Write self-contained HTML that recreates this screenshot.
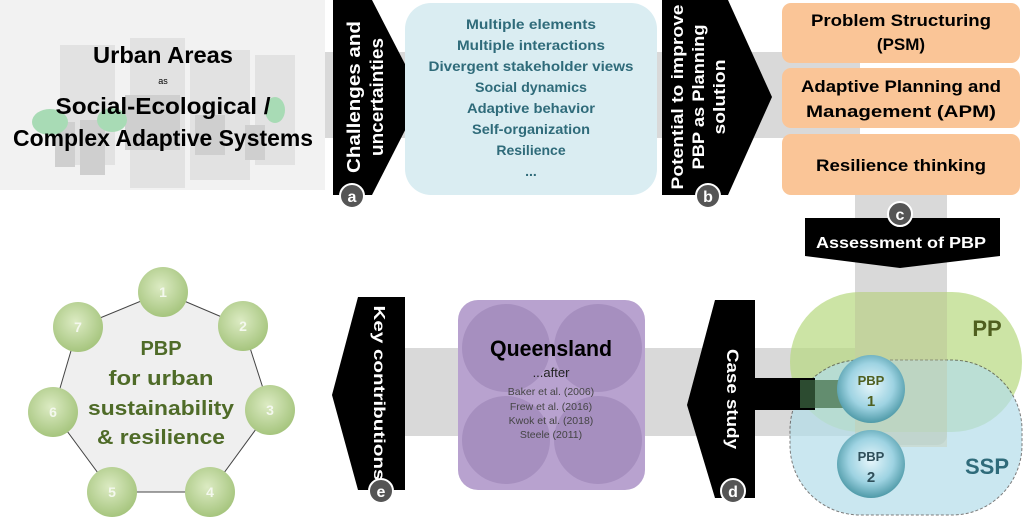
<!DOCTYPE html>
<html><head><meta charset="utf-8"><style>
html,body{margin:0;padding:0;background:#fff;width:1024px;height:523px;overflow:hidden}
svg{display:block;font-family:"Liberation Sans",sans-serif;font-weight:bold}
</style></head><body>
<svg width="1024" height="523" viewBox="0 0 1024 523" xmlns="http://www.w3.org/2000/svg">
<defs>
<radialGradient id="gc" cx="45%" cy="40%" r="60%"><stop offset="0" stop-color="#dcebc3"/><stop offset="1" stop-color="#a6c57e"/></radialGradient>
<radialGradient id="bc" cx="50%" cy="45%" r="55%"><stop offset="0" stop-color="#e6f6fb"/><stop offset="0.6" stop-color="#9ed3e2"/><stop offset="1" stop-color="#4f9aa8"/></radialGradient>
</defs>
<rect x="300" y="52" width="560" height="86" fill="#d9d9d9"/>
<rect x="855" y="140" width="92" height="305" rx="10" fill="#d9d9d9"/>
<rect x="395" y="348" width="530" height="88" fill="#d9d9d9"/>
<rect x="0" y="0" width="325" height="190" fill="#f2f2f2"/>
<g fill="#e2e2e2">
<rect x="60" y="45" width="55" height="120"/><rect x="130" y="38" width="55" height="150"/><rect x="190" y="50" width="60" height="130"/><rect x="255" y="55" width="40" height="110"/>
</g>
<g fill="#cfcfcf"><rect x="125" y="95" width="55" height="55"/><rect x="55" y="122" width="20" height="45"/><rect x="80" y="120" width="25" height="55"/><rect x="195" y="115" width="30" height="40"/><rect x="245" y="125" width="20" height="35"/></g>
<g fill="#a8dbb5"><ellipse cx="50" cy="122" rx="18" ry="13"/><ellipse cx="112" cy="120" rx="15" ry="12"/><ellipse cx="275" cy="110" rx="10" ry="13"/></g>
<g text-anchor="middle" fill="#000">
<text x="163" y="63" font-size="23" textLength="140" lengthAdjust="spacingAndGlyphs">Urban Areas</text>
<text x="163" y="84" font-size="9" font-weight="normal">as</text>
<text x="163" y="114" font-size="23" textLength="215" lengthAdjust="spacingAndGlyphs">Social-Ecological /</text>
<text x="163" y="146" font-size="23" textLength="300" lengthAdjust="spacingAndGlyphs">Complex Adaptive Systems</text>
</g>
<polygon points="333,0 372,0 422,97 372,195 333,195" fill="#000"/>
<g fill="#fff" font-size="18" text-anchor="middle">
<text transform="translate(360,97) rotate(-90)" textLength="152" lengthAdjust="spacingAndGlyphs">Challenges and</text>
<text transform="translate(383,97) rotate(-90)" textLength="118" lengthAdjust="spacingAndGlyphs">uncertainties</text>
</g>
<circle cx="352" cy="196" r="12" fill="#555" stroke="#fff" stroke-width="2"/>
<text x="352" y="202" fill="#fff" font-size="16" text-anchor="middle">a</text>
<rect x="405" y="3" width="252" height="192" rx="26" fill="#daedf2"/>
<g fill="#2f6b7a" font-size="14" text-anchor="middle">
<text x="531" y="29" textLength="130" lengthAdjust="spacingAndGlyphs">Multiple elements</text>
<text x="531" y="50" textLength="148" lengthAdjust="spacingAndGlyphs">Multiple interactions</text>
<text x="531" y="71" textLength="205" lengthAdjust="spacingAndGlyphs">Divergent stakeholder views</text>
<text x="531" y="92" textLength="112" lengthAdjust="spacingAndGlyphs">Social dynamics</text>
<text x="531" y="113" textLength="128" lengthAdjust="spacingAndGlyphs">Adaptive behavior</text>
<text x="531" y="134" textLength="118" lengthAdjust="spacingAndGlyphs">Self-organization</text>
<text x="531" y="155">Resilience</text>
<text x="531" y="176">...</text>
</g>
<polygon points="662,0 728,0 772,97 728,195 662,195" fill="#000"/>
<g fill="#fff" font-size="17" text-anchor="middle">
<text transform="translate(683,97) rotate(-90)" textLength="185" lengthAdjust="spacingAndGlyphs">Potential to improve</text>
<text transform="translate(704,97) rotate(-90)" textLength="145" lengthAdjust="spacingAndGlyphs">PBP as Planning</text>
<text transform="translate(725,97) rotate(-90)" textLength="75" lengthAdjust="spacingAndGlyphs">solution</text>
</g>
<circle cx="708" cy="196" r="12" fill="#555" stroke="#fff" stroke-width="2"/>
<text x="708" y="202" fill="#fff" font-size="16" text-anchor="middle">b</text>
<g fill="#fac597">
<rect x="782" y="3" width="238" height="60" rx="9"/>
<rect x="782" y="68" width="238" height="60" rx="9"/>
<rect x="782" y="134" width="238" height="61" rx="9"/>
</g>
<g fill="#000" font-size="17" text-anchor="middle">
<text x="901" y="26" textLength="180" lengthAdjust="spacingAndGlyphs">Problem Structuring</text>
<text x="901" y="50">(PSM)</text>
<text x="901" y="92" textLength="200" lengthAdjust="spacingAndGlyphs">Adaptive Planning and</text>
<text x="901" y="117" textLength="190" lengthAdjust="spacingAndGlyphs">Management (APM)</text>
<text x="901" y="171" textLength="170" lengthAdjust="spacingAndGlyphs">Resilience thinking</text>
</g>
<polygon points="805,218 1000,218 1000,256 900,268 805,256" fill="#000"/>
<text x="901" y="248" fill="#fff" font-size="16" text-anchor="middle" textLength="170" lengthAdjust="spacingAndGlyphs">Assessment of PBP</text>
<circle cx="900" cy="214" r="12" fill="#555" stroke="#fff" stroke-width="2"/>
<text x="900" y="220" fill="#fff" font-size="16" text-anchor="middle">c</text>
<rect x="790" y="292" width="232" height="140" rx="70" fill="#b6d97f" opacity="0.7"/>
<rect x="790" y="360" width="232" height="155" rx="70" fill="#b4deea" opacity="0.7" stroke="#444" stroke-dasharray="3,2"/>
<rect x="855" y="292" width="92" height="155" fill="#c9c9a6" opacity="0.35"/>
<text x="987" y="336" fill="#4f5f1f" font-size="22" text-anchor="middle">PP</text>
<text x="987" y="474" fill="#2f6b7a" font-size="22" text-anchor="middle">SSP</text>
<rect x="745" y="378" width="70" height="32" fill="#000"/>
<rect x="800" y="380" width="50" height="28" fill="#3f6b45" opacity="0.7"/>
<circle cx="871" cy="389" r="34" fill="url(#bc)"/>
<circle cx="871" cy="464" r="34" fill="url(#bc)"/>
<g fill="#4f5f1f" font-size="13" text-anchor="middle"><text x="871" y="385">PBP</text><text x="871" y="406" font-size="15">1</text></g>
<g fill="#2f4f5a" font-size="13" text-anchor="middle"><text x="871" y="461">PBP</text><text x="871" y="482" font-size="15">2</text></g>
<polygon points="715,300 755,300 755,498 715,498 687,405" fill="#000"/>
<text transform="translate(727,399) rotate(90)" fill="#fff" font-size="17" text-anchor="middle" textLength="100" lengthAdjust="spacingAndGlyphs">Case study</text>
<circle cx="733" cy="491" r="12" fill="#555" stroke="#fff" stroke-width="2"/>
<text x="733" y="497" fill="#fff" font-size="16" text-anchor="middle">d</text>
<rect x="458" y="300" width="187" height="190" rx="20" fill="#b8a2cf"/>
<g fill="#a68fbf"><circle cx="506" cy="348" r="44"/><circle cx="598" cy="348" r="44"/><circle cx="506" cy="440" r="44"/><circle cx="598" cy="440" r="44"/></g>
<text x="551" y="356" font-size="22" text-anchor="middle" fill="#000" textLength="122" lengthAdjust="spacingAndGlyphs">Queensland</text>
<g fill="#444" font-weight="normal" text-anchor="middle">
<text x="551" y="377" font-size="13" fill="#222">...after</text>
<text x="551" y="395" font-size="10.5">Baker et al. (2006)</text>
<text x="551" y="410" font-size="10.5">Frew et al. (2016)</text>
<text x="551" y="424" font-size="10.5">Kwok et al. (2018)</text>
<text x="551" y="438" font-size="10.5">Steele (2011)</text>
</g>
<polygon points="358,297 405,297 405,490 358,490 332,395" fill="#000"/>
<text transform="translate(374,393) rotate(90)" fill="#fff" font-size="16" text-anchor="middle" textLength="175" lengthAdjust="spacingAndGlyphs">Key contributions</text>
<circle cx="381" cy="491" r="12" fill="#555" stroke="#fff" stroke-width="2"/>
<text x="381" y="497" fill="#fff" font-size="16" text-anchor="middle">e</text>
<polygon points="163,292 243,326 270,410 210,492 112,492 53,412 78,327" fill="#efefef" stroke="#444" stroke-width="1"/>
<g fill="url(#gc)">
<circle cx="163" cy="292" r="25"/><circle cx="243" cy="326" r="25"/><circle cx="270" cy="410" r="25"/><circle cx="210" cy="492" r="25"/><circle cx="112" cy="492" r="25"/><circle cx="53" cy="412" r="25"/><circle cx="78" cy="327" r="25"/>
</g>
<g fill="#f4f8ee" font-size="14" text-anchor="middle">
<text x="163" y="297">1</text><text x="243" y="331">2</text><text x="270" y="415">3</text><text x="210" y="497">4</text><text x="112" y="497">5</text><text x="53" y="417">6</text><text x="78" y="332">7</text>
</g>
<g fill="#4f6b28" font-size="20" text-anchor="middle">
<text x="161" y="355">PBP</text>
<text x="161" y="385" textLength="105" lengthAdjust="spacingAndGlyphs">for urban</text>
<text x="161" y="415" textLength="146" lengthAdjust="spacingAndGlyphs">sustainability</text>
<text x="161" y="444" textLength="128" lengthAdjust="spacingAndGlyphs">&amp; resilience</text>
</g>
</svg>
</body></html>
